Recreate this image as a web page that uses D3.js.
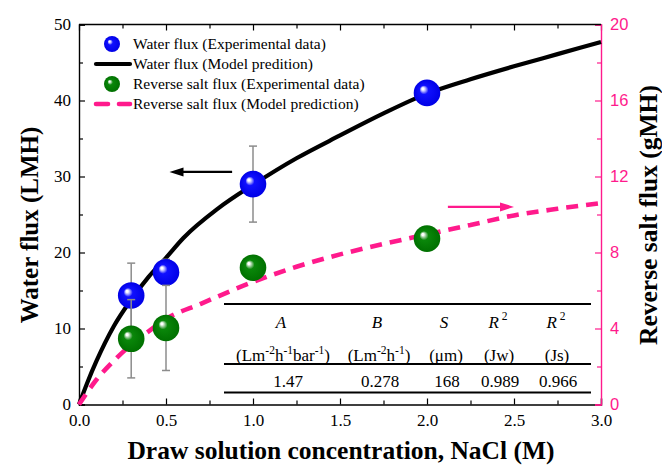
<!DOCTYPE html>
<html><head><meta charset="utf-8">
<script src="https://cdn.jsdelivr.net/npm/d3@7"></script>
<style>body{margin:0;background:#fff}svg{display:block}
.serif{font-family:"Liberation Serif","Times New Roman",Times,serif}
.sans{font-family:"Liberation Sans",Arial,Helvetica,sans-serif}</style>
</head><body>
<svg id="c" width="662" height="465"></svg>
<script>
// ---------- data ----------
const waterX = [0.3, 0.5, 1.0, 2.0];
const waterY = [14.35, 17.4, 29.0, 41.0];
const waterErr = [4.25, 1.7, 5.0, 0];
const saltX = [0.3, 0.5, 1.0, 2.0];
const saltY = [3.46, 4.03, 7.2, 8.73];
const saltErr = [2.06, 2.24, 0.35, 0];
const modelWX = [0, 0.05, 0.1, 0.2, 0.3, 0.4, 0.5, 0.6, 0.8, 1.0, 1.25, 1.5, 1.75, 2.0, 2.25, 2.5, 2.75, 3.0];
const modelWY = [0, 3.0, 5.7, 10.3, 13.8, 16.8, 19.3, 21.9, 25.8, 28.9, 32.4, 35.4, 38.3, 40.9, 42.8, 44.5, 46.1, 47.7];
const modelSX = [0, 0.1, 0.2, 0.3, 0.4, 0.5, 0.7, 1.0, 1.25, 1.5, 1.75, 2.0, 2.25, 2.5, 2.75, 3.0];
const modelSY = [0, 1.3, 2.3, 3.15, 3.85, 4.5, 5.3, 6.45, 7.25, 7.9, 8.45, 8.95, 9.45, 9.95, 10.3, 10.6];
const xTicks = [0, 0.5, 1.0, 1.5, 2.0, 2.5, 3.0];
const leftTicks = [0, 10, 20, 30, 40, 50];
const rightTicks = [0, 4, 8, 12, 16, 20];
const legendLabels = ["Water flux (Experimental data)", "Water flux (Model predition)",
  "Reverse salt flux (Experimental data)", "Reverse salt flux (Model prediction)"];
const tableValues = ["1.47", "0.278", "168", "0.989", "0.966"];

// ---------- setup ----------
const PINK = "#ff1a8c";
const svg = d3.select("#c");
const x = d3.scaleLinear().domain([0, 3]).range([79, 601]);
const yL = d3.scaleLinear().domain([0, 50]).range([404.5, 24.5]);
const yR = d3.scaleLinear().domain([0, 20]).range([404.5, 24.5]);

const defs = svg.append("defs");
function ballGrad(id, c0, c1, c2) {
  const g = defs.append("radialGradient").attr("id", id)
    .attr("cx", "0.5").attr("cy", "0.5").attr("r", "0.5").attr("fx", "0.33").attr("fy", "0.33");
  g.append("stop").attr("offset", "0").attr("stop-color", "#ffffff");
  g.append("stop").attr("offset", "0.08").attr("stop-color", "#ffffff");
  g.append("stop").attr("offset", "0.2").attr("stop-color", c0);
  g.append("stop").attr("offset", "0.34").attr("stop-color", c1);
  g.append("stop").attr("offset", "1").attr("stop-color", c2);
}
ballGrad("gb", "#9a9aff", "#1010ff", "#0000e6");
ballGrad("gg", "#8cc48c", "#0a870a", "#007000");

// ---------- axes ----------
const axG = svg.append("g");
const xb = axG.append("g").attr("transform", "translate(0,404.5)")
  .call(d3.axisBottom(x).tickValues(xTicks).tickSize(-6).tickPadding(9).tickFormat(d3.format(".1f")));
const xbm = axG.append("g").attr("transform", "translate(0,404.5)")
  .call(d3.axisBottom(x).tickValues(d3.range(0.25, 3, 0.5)).tickSize(-4).tickFormat(""));
const xt = axG.append("g").attr("transform", "translate(0,24.5)")
  .call(d3.axisTop(x).tickValues(xTicks).tickSize(-6).tickFormat(""));
const xtm = axG.append("g").attr("transform", "translate(0,24.5)")
  .call(d3.axisTop(x).tickValues(d3.range(0.25, 3, 0.5)).tickSize(-4).tickFormat(""));
const yl = axG.append("g").attr("transform", "translate(79,0)")
  .call(d3.axisLeft(yL).tickValues(leftTicks).tickSize(-6).tickPadding(8));
const ylm = axG.append("g").attr("transform", "translate(79,0)")
  .call(d3.axisLeft(yL).tickValues(d3.range(5, 50, 10)).tickSize(-4).tickFormat(""));
const yr = axG.append("g").attr("transform", "translate(601,0)")
  .call(d3.axisRight(yR).tickValues(rightTicks).tickSize(-6).tickPadding(9));
const yrm = axG.append("g").attr("transform", "translate(601,0)")
  .call(d3.axisRight(yR).tickValues(d3.range(2, 20, 4)).tickSize(-4).tickFormat(""));

[xb, xbm, xt, xtm, yl, ylm].forEach(g => {
  g.selectAll("path.domain").attr("stroke", "#000").attr("stroke-width", 1.4);
  g.selectAll("line").attr("stroke", "#000").attr("stroke-width", 1.2);
});
[yr, yrm].forEach(g => {
  g.selectAll("path.domain").attr("stroke", PINK).attr("stroke-width", 1.4);
  g.selectAll("line").attr("stroke", PINK).attr("stroke-width", 1.2);
});
[xbm, xtm, ylm, yrm, xt].forEach(g => g.select("path.domain").remove());
[xb, yl].forEach(g => g.attr("font-family", null).attr("class", "serif").attr("font-size", 17));
xb.selectAll("text").attr("fill", "#000");
yl.selectAll("text").attr("fill", "#000");
yr.attr("font-family", null).attr("class", "sans").attr("font-size", 16.5);
yr.selectAll("text").attr("fill", PINK);
axG.append("line").attr("x1", x(0)).attr("x2", x(3)).attr("y1", 24.5).attr("y2", 24.5)
  .attr("stroke", "#000").attr("stroke-width", 1.4);

// ---------- titles ----------
svg.append("text").attr("class", "serif").attr("x", 341).attr("y", 459).attr("text-anchor", "middle")
  .attr("font-weight", "bold").attr("font-size", 25.5)
  .text("Draw solution concentration, NaCl (M)");
svg.append("text").attr("class", "serif").attr("transform", "translate(37.5,225) rotate(-90)").attr("text-anchor", "middle")
  .attr("font-weight", "bold").attr("font-size", 25)
  .text("Water flux (LMH)");
svg.append("text").attr("class", "serif").attr("transform", "translate(657,215) rotate(-90)").attr("text-anchor", "middle")
  .attr("font-weight", "bold").attr("font-size", 25.5)
  .text("Reverse salt flux (gMH)");

// ---------- model curves ----------
const plot = svg.append("g");
const lineW = d3.line().x((d, i) => x(modelWX[i])).y(d => yL(d)).curve(d3.curveMonotoneX);
const lineS = d3.line().x((d, i) => x(modelSX[i])).y(d => yR(d)).curve(d3.curveMonotoneX);
plot.append("path").attr("d", lineW(modelWY)).attr("fill", "none")
  .attr("stroke", "#000").attr("stroke-width", 4.2);

// ---------- error bars + markers ----------
function errBars(xs, ys, es, ys2) {
  const g = plot.append("g").attr("stroke", "#8c8c8c").attr("stroke-width", 1.5);
  xs.forEach((xv, i) => {
    if (!es[i]) return;
    const cx = x(xv), t = ys2(ys[i] + es[i]), b = ys2(ys[i] - es[i]);
    g.append("line").attr("x1", cx).attr("x2", cx).attr("y1", t).attr("y2", b);
    g.append("line").attr("x1", cx - 4).attr("x2", cx + 4).attr("y1", t).attr("y2", t);
    g.append("line").attr("x1", cx - 4).attr("x2", cx + 4).attr("y1", b).attr("y2", b);
  });
}
errBars(waterX, waterY, waterErr, yL);
plot.append("g").selectAll("circle").data(waterY).join("circle")
  .attr("cx", (d, i) => x(waterX[i])).attr("cy", d => yL(d)).attr("r", 13.3).attr("fill", "url(#gb)");

plot.append("path").attr("d", lineS(modelSY)).attr("fill", "none")
  .attr("stroke", PINK).attr("stroke-width", 4.6).attr("stroke-dasharray", "12,8");

errBars(saltX, saltY, saltErr, yR);
plot.append("g").selectAll("circle").data(saltY).join("circle")
  .attr("cx", (d, i) => x(saltX[i])).attr("cy", d => yR(d)).attr("r", 13.3).attr("fill", "url(#gg)");

// ---------- arrows ----------
function arrow(x1, x2, yy, col) {
  const dir = Math.sign(x2 - x1);
  svg.append("line").attr("x1", x1).attr("x2", x2 - dir * 10).attr("y1", yy).attr("y2", yy)
    .attr("stroke", col).attr("stroke-width", 2.2);
  svg.append("path").attr("d", `M${x2},${yy} L${x2 - dir * 14},${yy - 4.5} L${x2 - dir * 14},${yy + 4.5} Z`)
    .attr("fill", col);
}
arrow(x(0.88), x(0.52), yL(30.6), "#000");
arrow(x(2.12), x(2.5), yR(10.4), PINK);

// ---------- legend ----------
const lg = svg.append("g").attr("class", "serif").attr("font-size", 15.5);
const rows = [44, 64, 84, 104];
lg.append("circle").attr("cx", 112).attr("cy", rows[0]).attr("r", 8).attr("fill", "url(#gb)");
lg.append("line").attr("x1", 96).attr("x2", 130).attr("y1", rows[1]).attr("y2", rows[1])
  .attr("stroke", "#000").attr("stroke-width", 4.2).attr("stroke-linecap", "round");
lg.append("circle").attr("cx", 112).attr("cy", rows[2]).attr("r", 8).attr("fill", "url(#gg)");
lg.append("line").attr("x1", 96).attr("x2", 130).attr("y1", rows[3]).attr("y2", rows[3])
  .attr("stroke", PINK).attr("stroke-width", 4.6).attr("stroke-dasharray", "12,11").attr("stroke-linecap", "round");
lg.selectAll("text.l").data(legendLabels).join("text").attr("class", "l")
  .attr("x", 133).attr("y", (d, i) => rows[i] + 5).text(d => d);

// ---------- table ----------
const tb = svg.append("g").attr("class", "serif").attr("font-size", 17).attr("text-anchor", "middle");
const tl = 224, tr = 591;
tb.append("line").attr("x1", tl).attr("x2", tr).attr("y1", 304).attr("y2", 304).attr("stroke", "#000").attr("stroke-width", 2);
tb.append("line").attr("x1", tl).attr("x2", tr).attr("y1", 364).attr("y2", 364).attr("stroke", "#000").attr("stroke-width", 1.8);
tb.append("line").attr("x1", tl).attr("x2", tr).attr("y1", 392.5).attr("y2", 392.5).attr("stroke", "#000").attr("stroke-width", 1.8);
const cols = [283, 379, 446, 499, 557];
const hdr = ["A", "B", "S"];
hdr.forEach((h, i) => tb.append("text").attr("x", cols[i] - 2).attr("y", 328).attr("font-style", "italic").text(h));
[0, 1].forEach(k => {
  const t = tb.append("text").attr("x", cols[3 + k] - 1).attr("y", 328);
  t.append("tspan").attr("font-style", "italic").text("R");
  t.append("tspan").attr("font-size", 11.5).attr("dx", 3).attr("dy", -8).text("2");
});
function units(cx, parts) {
  const t = tb.append("text").attr("x", cx).attr("y", 361);
  parts.forEach(p => {
    if (p[1]) t.append("tspan").attr("font-size", 11.5).attr("dy", -7).text(p[0]);
    else t.append("tspan").attr("dy", p[2] ? 7 : 0).text(p[0]);
  });
}
units(cols[0], [["(Lm"], ["-2", 1], ["h", 0, 1], ["-1", 1], ["bar", 0, 1], ["-1", 1], [")", 0, 1]]);
units(cols[1], [["(Lm"], ["-2", 1], ["h", 0, 1], ["-1", 1], [")", 0, 1]]);
units(cols[2], [["(\u03bcm)"]]);
units(cols[3], [["(Jw)"]]);
units(cols[4], [["(Js)"]]);
tb.selectAll("text.v").data(tableValues).join("text").attr("class", "v")
  .attr("x", (d, i) => cols[i] + (i === 0 ? 5 : 1)).attr("y", 387).text(d => d);
</script>
</body></html>
